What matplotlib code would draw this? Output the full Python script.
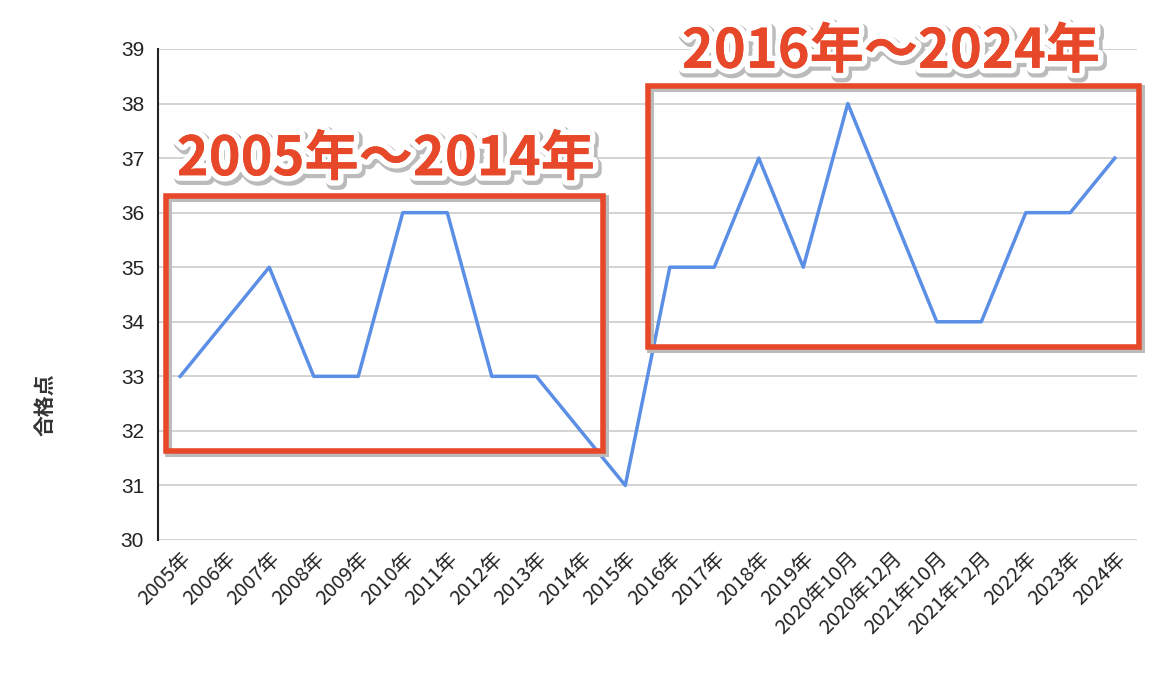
import matplotlib.pyplot as plt
import matplotlib.patheffects as pe
from matplotlib.patches import Rectangle

plt.rcParams['font.family'] = ['Noto Sans CJK JP', 'DejaVu Sans']

labels = ['2005年', '2006年', '2007年', '2008年', '2009年', '2010年', '2011年',
          '2012年', '2013年', '2014年', '2015年', '2016年', '2017年', '2018年',
          '2019年', '2020年10月', '2020年12月', '2021年10月', '2021年12月',
          '2022年', '2023年', '2024年']
scores = [33, 34, 35, 33, 33, 36, 36, 33, 33, 32, 31, 35, 35, 37, 35, 38, 36,
          34, 34, 36, 36, 37]

box_texts = ['2005年〜2014年', '2016年〜2024年']

red = '#e8482a'
blue = '#5b8fe6'

fig = plt.figure(figsize=(11.72, 7), dpi=100)
ax = fig.add_axes([0.1348, 0.2286, 0.8354, 0.7014])

x = list(range(len(labels)))
ax.plot(x, scores, color=blue, linewidth=2.5, zorder=3)

ax.set_xlim(-0.5, len(labels) - 0.5)
ax.set_ylim(30, 39)
ax.set_yticks(range(30, 40))
ax.set_xticks(x)
ax.set_xticklabels(labels, rotation=45, ha='right', rotation_mode='anchor',
                   fontsize=14.5, color='#222222')
ax.tick_params(axis='x', length=0, pad=6)
ax.tick_params(axis='y', length=0, pad=10, labelsize=15, labelcolor='#222222')
for t in ax.get_yticklabels():
    t.set_family(['Liberation Sans', 'DejaVu Sans'])

ax.grid(axis='y', color='#cccccc', linewidth=1.2)
ax.set_axisbelow(True)
for s in ['top', 'right', 'bottom']:
    ax.spines[s].set_visible(False)
ax.spines['left'].set_color('#222222')
ax.spines['left'].set_linewidth(1.5)

ax.set_ylabel('合格点', fontsize=15, color='#333333', fontweight='bold')
ax.yaxis.set_label_coords(-0.105, 0.275)

box_fx = [pe.Stroke(offset=(1.5, -1.5), linewidth=5, foreground='#bbbbbb'),
          pe.Normal()]
ax.add_patch(Rectangle((-0.32, 31.63), 9.82, 4.68, fill=False, edgecolor=red,
                       linewidth=4, zorder=4, clip_on=False, path_effects=box_fx))
ax.add_patch(Rectangle((10.51, 33.54), 11.03, 4.78, fill=False, edgecolor=red,
                       linewidth=4, zorder=4, clip_on=False, path_effects=box_fx))

text_fx = [pe.withStroke(linewidth=10, foreground='#bbbbbb', offset=(1.5, -2)),
           pe.withStroke(linewidth=8, foreground='white'), pe.Normal()]
ax.text(4.62, 36.97, box_texts[0], fontsize=39, fontweight='bold', color=red,
        ha='center', va='center', zorder=5, clip_on=False, path_effects=text_fx)
ax.text(15.97, 38.94, box_texts[1], fontsize=39, fontweight='bold', color=red,
        ha='center', va='center', zorder=5, clip_on=False, path_effects=text_fx)

fig.savefig('out.png', dpi=100, facecolor='white')
